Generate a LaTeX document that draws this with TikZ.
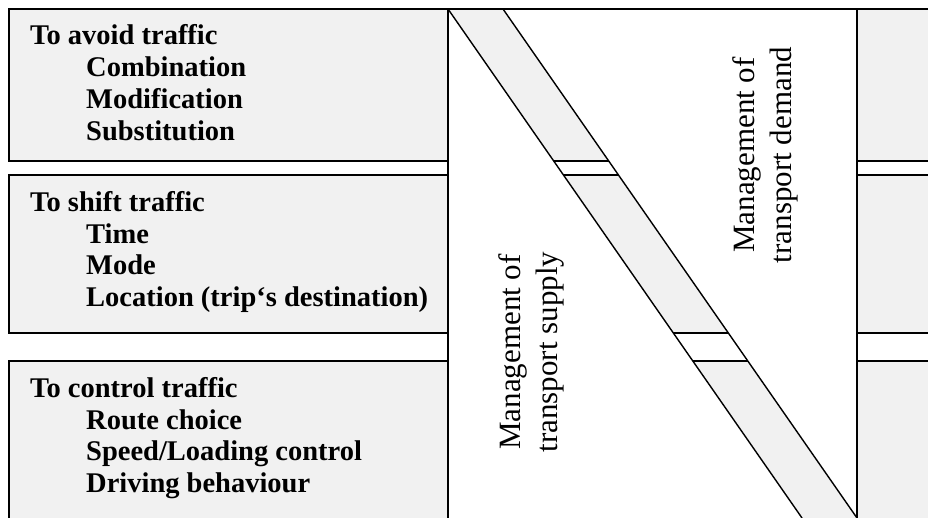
\documentclass[tikz,border=0pt]{standalone}
\usepackage{fontspec}
\setmainfont{Liberation Serif}
\definecolor{boxgray}{HTML}{F1F1F1}
\begin{document}
\begin{tikzpicture}[x=1pt,y=-1pt,
  frame/.style={draw=black,line width=1.4pt,fill=boxgray},
  edge/.style={draw=black,line width=1.4pt},
  lefttext/.style={anchor=base west,inner sep=0pt,font=\fontsize{28.5}{31.7}\selectfont\bfseries},
  rottext/.style={rotate=90,align=center,inner sep=0pt,font=\fontsize{31}{37}\selectfont}]
\useasboundingbox (0,0) rectangle (928,518);
\clip (0,0) rectangle (928,518);
\fill[white] (0,0) rectangle (928,518);
% left boxes
\draw[frame] (9,9) rectangle (448,161);
\draw[frame] (9,175) rectangle (448,333);
\draw[frame] (9,361) rectangle (448,530);
% right boxes
\draw[frame] (857,9) rectangle (940,161);
\draw[frame] (857,175) rectangle (940,333);
\draw[frame] (857,361) rectangle (940,530);
% band
\coordinate (bTL) at (448,9);
\coordinate (bTR) at (503,9);
\coordinate (bBR) at (857,518);
\coordinate (bBL) at (802,518);
\fill[boxgray] (bTL) -- (bTR) -- (bBR) -- (bBL) -- cycle;
\begin{scope}
  \clip (bTL) -- (bTR) -- (bBR) -- (bBL) -- cycle;
  \fill[white] (440,161) rectangle (870,175);
  \fill[white] (440,333) rectangle (870,361);
  \draw[edge] (440,161) -- (870,161) (440,175) -- (870,175)
              (440,333) -- (870,333) (440,361) -- (870,361);
\end{scope}
\draw[edge] (bTL) -- (bBL);
\draw[edge] (bTR) -- (bBR);
% verticals and top
\draw[edge] (448,9) -- (448,518);
\draw[edge] (857,9) -- (857,518);
\draw[edge] (448,9) -- (857,9);
% texts
\node[lefttext] (avoid) at (30,45) {\begin{tabular}[t]{@{}l@{}}To avoid traffic\\\hspace{56pt}Combination\\\hspace{56pt}Modification\\\hspace{56pt}Substitution\end{tabular}};
\node[lefttext] (shift) at (30,211.5) {\begin{tabular}[t]{@{}l@{}}To shift traffic\\\hspace{56pt}Time\\\hspace{56pt}Mode\\\hspace{56pt}Location (trip‘s destination)\end{tabular}};
\node[lefttext] (control) at (30,397.5) {\begin{tabular}[t]{@{}l@{}}To control traffic\\\hspace{56pt}Route choice\\\hspace{56pt}Speed/Loading control\\\hspace{56pt}Driving behaviour\end{tabular}};
\node[rottext] (supply) at (531,352) {Management of\\transport supply};
\node[rottext] (demand) at (765,155) {Management of\\transport demand};
\end{tikzpicture}
\end{document}
